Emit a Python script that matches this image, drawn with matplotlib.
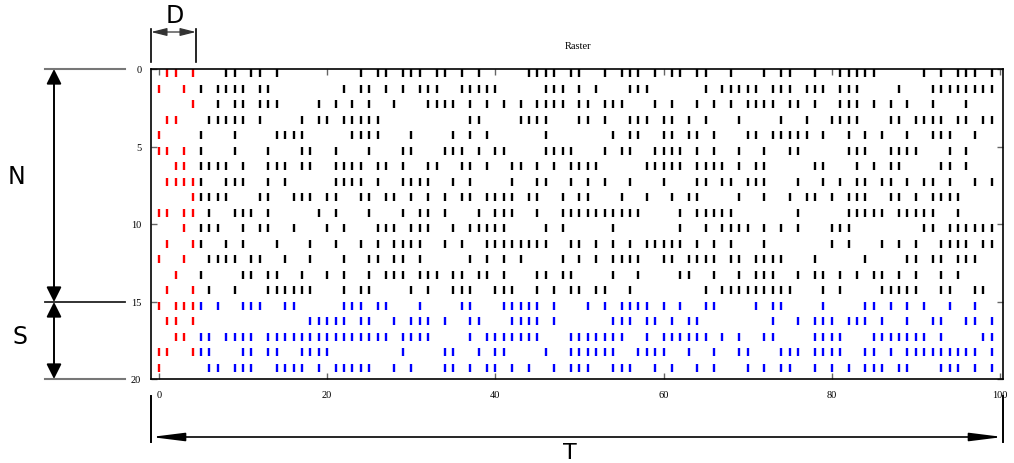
import matplotlib
matplotlib.use("Agg")
import matplotlib.pyplot as plt
from matplotlib.lines import Line2D
from matplotlib.patches import FancyArrowPatch

# ---- data: spike times (time steps) for each neuron row ----
row_00 = [1, 2, 4, 8, 9, 11, 12, 14, 24, 26, 27, 29, 30, 31, 33, 34, 36, 38, 44, 45, 46, 47, 49, 50,
          53, 55, 56, 57, 59, 61, 62, 64, 65, 68, 72, 74, 75, 78, 81, 82, 83, 84, 85, 91, 93, 95, 96, 97, 99]
row_01 = [0, 3, 5, 7, 8, 9, 10, 12, 13, 22, 24, 25, 27, 29, 31, 32, 33, 36, 37, 38, 39, 40, 46, 47, 48, 50,
          52, 56, 57, 58, 65, 67, 68, 69, 70, 71, 73, 74, 75, 77, 78, 79, 81, 82, 83, 88, 92, 93, 94, 95, 96, 97, 98, 99]
row_02 = [4, 7, 9, 10, 12, 13, 14, 19, 21, 23, 25, 28, 32, 33, 34, 35, 37, 39, 41, 43, 45, 46, 47, 48, 50,
          51, 53, 54, 55, 59, 61, 64, 66, 68, 70, 71, 72, 73, 75, 76, 78, 81, 82, 83, 85, 87, 89, 92, 96]
row_03 = [1, 2, 6, 7, 8, 9, 10, 12, 17, 19, 20, 22, 23, 24, 25, 26, 37, 38, 43, 44, 45, 46, 50,
          51, 53, 56, 57, 58, 60, 61, 63, 65, 69, 74, 77, 80, 81, 82, 83, 87, 88, 90, 91, 92, 93, 95, 96, 98, 99]
row_04 = [0, 5, 9, 14, 15, 16, 17, 23, 24, 25, 26, 30, 35, 37, 39, 46,
          54, 56, 57, 60, 61, 63, 64, 66, 70, 71, 73, 74, 75, 76, 77, 79, 82, 84, 86, 89, 92, 93, 94, 97]
row_05 = [0, 1, 3, 5, 9, 13, 17, 18, 21, 25, 29, 30, 34, 35, 36, 38, 40, 41, 46, 47, 48, 49,
          53, 55, 56, 59, 60, 61, 62, 64, 66, 69, 72, 75, 76, 82, 83, 84, 87, 88, 89, 90, 94, 96]
row_06 = [2, 3, 5, 6, 7, 8, 10, 13, 14, 15, 17, 18, 21, 22, 23, 24, 26, 27, 29, 32, 33, 36, 37, 39, 42, 43,
          45, 47, 49, 50, 51, 52, 58, 59, 60, 61, 62, 64, 65, 66, 67, 69, 71, 72, 78, 79, 83, 85, 87, 88, 93, 94, 96]
row_07 = [1, 2, 3, 4, 5, 8, 9, 10, 13, 15, 21, 22, 23, 24, 26, 29, 30, 31, 32, 35, 37, 42, 45, 46, 49,
          51, 53, 56, 60, 64, 65, 67, 68, 70, 71, 72, 76, 79, 81, 83, 84, 86, 87, 89, 91, 92, 94, 97, 99]
row_08 = [4, 5, 6, 7, 8, 12, 13, 16, 17, 18, 20, 21, 24, 25, 27, 28, 30, 32, 34, 36, 37, 39, 40, 41, 42, 44,
          45, 48, 50, 51, 55, 58, 61, 63, 64, 69, 72, 75, 77, 78, 80, 82, 83, 84, 87, 88, 90, 92, 93, 94, 95]
row_09 = [0, 1, 3, 4, 6, 9, 10, 11, 13, 19, 21, 25, 29, 31, 32, 34, 38, 40, 41, 42, 45, 48, 49, 50,
          51, 52, 53, 54, 55, 56, 57, 62, 64, 65, 66, 67, 68, 76, 82, 83, 84, 85, 86, 88, 89, 90, 91, 92, 95]
row_10 = [3, 5, 6, 7, 10, 12, 13, 16, 20, 22, 26, 27, 28, 30, 31, 32, 35, 37, 38, 39, 40, 41, 46, 48,
          54, 62, 65, 67, 68, 69, 70, 72, 74, 76, 80, 81, 82, 91, 92, 94, 95, 96, 97, 98, 99]
row_11 = [1, 4, 5, 8, 10, 14, 18, 21, 24, 26, 28, 29, 30, 31, 34, 36, 39, 40, 41, 42, 43, 44, 45, 46, 49, 50,
          52, 54, 56, 58, 59, 60, 61, 62, 64, 66, 68, 72, 80, 82, 86, 88, 90, 93, 94, 95, 96, 98, 99]
row_12 = [0, 3, 6, 7, 8, 9, 11, 12, 15, 18, 22, 25, 26, 28, 29, 31, 37, 39, 41, 43, 48, 50,
          52, 54, 55, 56, 57, 60, 61, 63, 64, 65, 66, 68, 69, 71, 72, 73, 74, 78, 84, 89, 90, 92, 93, 95, 96, 97]
row_13 = [2, 5, 10, 11, 13, 14, 17, 20, 22, 25, 27, 28, 29, 31, 32, 33, 35, 36, 38, 39, 41, 45, 46, 48, 49,
          54, 57, 62, 63, 66, 69, 71, 72, 73, 76, 78, 79, 81, 83, 85, 86, 88, 90, 93, 95]
row_14 = [1, 4, 6, 9, 13, 14, 15, 16, 17, 18, 22, 24, 25, 30, 32, 35, 36, 37, 40, 41, 42, 45, 47, 49, 50,
          52, 53, 56, 65, 67, 68, 69, 70, 71, 72, 73, 74, 75, 79, 81, 86, 87, 88, 89, 90, 93, 94, 97, 98]
row_15 = [0, 2, 3, 4, 5, 7, 10, 11, 12, 15, 16, 22, 23, 24, 26, 27, 31, 36, 37, 41, 42, 43, 44, 45, 47,
          51, 53, 55, 56, 57, 58, 60, 62, 65, 66, 71, 73, 74, 79, 84, 85, 87, 89, 91, 94, 97]
row_16 = [1, 2, 4, 18, 19, 20, 21, 22, 24, 25, 28, 30, 31, 32, 34, 37, 38, 42, 43, 44, 45, 47,
          54, 55, 56, 58, 59, 61, 63, 64, 73, 76, 78, 79, 80, 82, 83, 84, 86, 89, 92, 93, 96, 97, 99]
row_17 = [2, 3, 5, 6, 8, 9, 10, 11, 13, 14, 15, 16, 17, 18, 19, 20, 21, 22, 23, 24, 25, 26, 27, 29, 30, 31, 32,
          37, 39, 40, 41, 42, 43, 44, 45, 49, 50, 51, 52, 53, 54, 55, 58, 60, 61, 62, 63, 64, 65, 67, 69, 72, 73,
          78, 79, 80, 81, 85, 86, 87, 88, 89, 90, 91, 93, 98, 99]
row_18 = [0, 1, 4, 5, 6, 10, 11, 13, 14, 17, 18, 19, 20, 29, 34, 35, 38, 40, 41, 46, 49, 50,
          51, 52, 53, 54, 57, 58, 59, 60, 63, 66, 69, 70, 74, 75, 76, 78, 79, 80, 81, 84, 85, 87, 89, 90, 91, 92,
          93, 94, 95, 96, 97, 99]
row_19 = [0, 6, 7, 9, 10, 11, 14, 15, 16, 17, 19, 21, 22, 23, 24, 25, 28, 30, 34, 35, 37, 39, 40, 42, 44, 47,
          49, 50, 51, 54, 55, 56, 59, 61, 64, 66, 70, 72, 74, 75, 78, 80, 82, 84, 85, 86, 88, 89, 93, 94, 95, 97, 99]

rows = [row_00, row_01, row_02, row_03, row_04, row_05, row_06, row_07, row_08, row_09,
        row_10, row_11, row_12, row_13, row_14, row_15, row_16, row_17, row_18, row_19]

delay_end = 4          # spikes at t <= D are shown red
n_neurons = 15         # rows 0..14 black, 15..19 blue
x_ticks = [0, 20, 40, 60, 80, 100]
y_ticks = [0, 5, 10, 15, 20]
title = "Raster"

W, H = 1014, 464
fig = plt.figure(figsize=(W / 100, H / 100), dpi=100)
ax = fig.add_axes([151 / W, 1 - 380 / H, (1003 - 151) / W, (380 - 70) / H])

for i, times in enumerate(rows):
    for t in times:
        if t <= delay_end:
            c = "#ff0000"
        elif i < n_neurons:
            c = "black"
        else:
            c = "#0000ff"
        ax.vlines(t, i + 0.03, i + 0.53, colors=c, linewidth=1.7)

ax.set_xlim(-0.95, 100.36)
ax.set_ylim(20, 0)
ax.set_xticks(x_ticks)
ax.set_yticks(y_ticks)
ax.tick_params(direction="in", top=True, right=True, length=4, width=1,
               color="#666666", labelsize=7.5)
ax.tick_params(axis="x", pad=8)
ax.tick_params(axis="y", pad=7)
for lab in ax.get_xticklabels() + ax.get_yticklabels():
    lab.set_family("Liberation Serif")
for s in ax.spines.values():
    s.set_linewidth(1.2)

fig.text(578 / W, 1 - 47 / H, title, ha="center", va="center",
         fontsize=7.5, family="Liberation Serif")


def fp(x, y):
    return (x / W, 1 - y / H)


def line(x1, y1, x2, y2, color="black", lw=1.2):
    a, b = fp(x1, y1), fp(x2, y2)
    fig.add_artist(Line2D([a[0], b[0]], [a[1], b[1]], transform=fig.transFigure,
                          color=color, lw=lw))


def darrow(x1, y1, x2, y2, hl, hw, ms, lw=1.3, color="black"):
    fig.add_artist(FancyArrowPatch(fp(x1, y1), fp(x2, y2), transform=fig.transFigure,
                                   arrowstyle=f"<|-|>,head_length={hl},head_width={hw}",
                                   mutation_scale=ms, color=color, lw=lw,
                                   shrinkA=0, shrinkB=0))


# left N / S brackets
line(45, 70, 125, 70, color="#777777", lw=1.5)
line(45, 303, 125, 303, color="#222222", lw=1.3)
line(45, 380, 125, 380, color="#777777", lw=1.5)
darrow(54, 70, 54, 303, 0.9, 0.45, 10, lw=1.4)
darrow(54, 303, 54, 380, 0.9, 0.45, 10, lw=1.4)
fig.text(17 / W, 1 - 177 / H, "N", ha="center", va="center", fontsize=17)
fig.text(20 / W, 1 - 337 / H, "S", ha="center", va="center", fontsize=17)

# top D bracket
line(151, 30, 151, 63, lw=1.2)
line(196, 30, 196, 63, lw=1.2)
darrow(151, 33, 196, 33, 1.2, 0.3, 8, lw=0.9, color="#333333")
fig.text(175 / W, 1 - 16 / H, "D", ha="center", va="center", fontsize=17)

# bottom T bracket
line(151, 397, 151, 443, lw=1.4)
line(1003, 397, 1003, 443, lw=1.4)
darrow(151, 438, 1003, 438, 2.0, 0.25, 10, lw=1.2)
fig.text(570 / W, 1 - 453 / H, "T", ha="center", va="center", fontsize=16)

fig.savefig("out.png", dpi=100)
